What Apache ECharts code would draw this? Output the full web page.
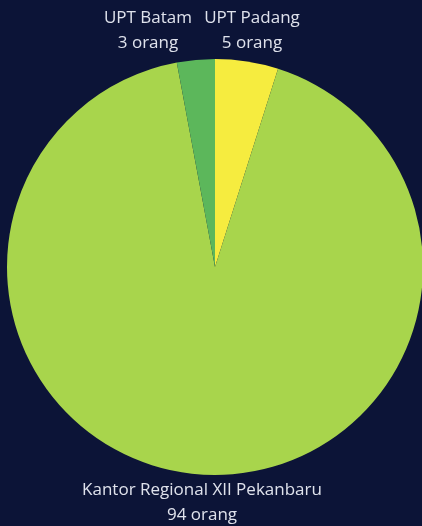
<!DOCTYPE html>
<html>
<head>
<meta charset="utf-8">
<script src="https://cdn.jsdelivr.net/npm/echarts@6/dist/echarts.min.js"></script>
<style>
html,body{margin:0;padding:0;background:#0c1437;}
#chart{width:422px;height:526px;}
</style>
</head>
<body>
<div id="chart"></div>
<script>
const categories = ['UPT Padang', 'Kantor Regional XII Pekanbaru', 'UPT Batam'];
const values = [5, 94, 3];
const unitLabel = 'orang';
const colors = ['#f6ec3f', '#a8d54c', '#5cb75b'];
const labelPos = [[252, 31], [202, 503], [148, 31]];

const chart = echarts.init(document.getElementById('chart'), null, {renderer: 'canvas'});
chart.setOption({
  backgroundColor: '#0c1437',
  animation: false,
  series: [{
    type: 'pie',
    center: [215, 267],
    radius: 208,
    startAngle: 90,
    clockwise: true,
    avoidLabelOverlap: false,
    data: categories.map((c, i) => ({name: c, value: values[i], itemStyle: {color: colors[i]}})),
    label: {
      show: true,
      position: 'outside',
      formatter: p => p.name + '\n' + p.value + ' ' + unitLabel,
      color: '#dfe2ec',
      fontFamily: 'Open Sans',
      fontSize: 17,
      lineHeight: 25,
      align: 'center'
    },
    labelLine: {show: false},
    labelLayout: function (params) {
      const p = labelPos[params.dataIndex];
      return {x: p[0], y: p[1], align: 'center', verticalAlign: 'middle'};
    },
    emphasis: {disabled: true}
  }]
});
</script>
</body>
</html>
